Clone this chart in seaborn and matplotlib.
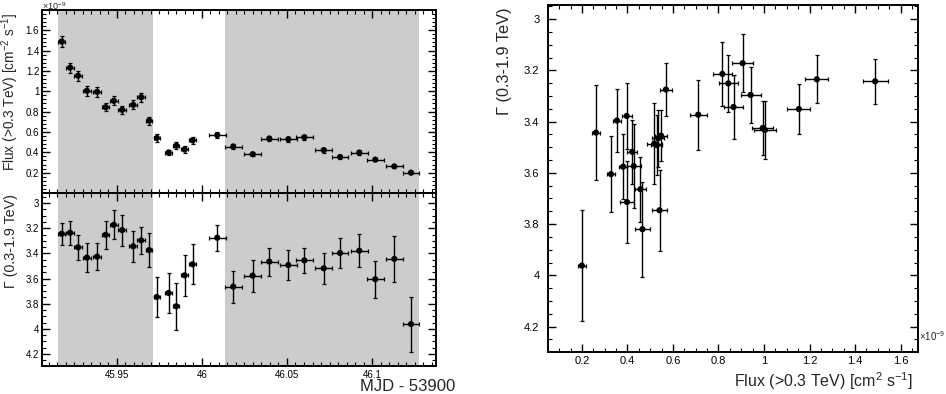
import numpy as np
import pandas as pd
import matplotlib
matplotlib.use("Agg")
import matplotlib.pyplot as plt
from matplotlib.ticker import MultipleLocator, FuncFormatter
import seaborn as sns

sns.set_theme(style="ticks")
plt.rcParams['font.family'] = ['Liberation Sans', 'DejaVu Sans']
plt.rcParams['mathtext.fontset'] = 'custom'
plt.rcParams['mathtext.rm'] = 'Liberation Sans'
plt.rcParams['mathtext.default'] = 'regular'

# time (MJD - 53900) and bin half widths
mjd = [45.9176, 45.9225, 45.9272, 45.9324, 45.9384, 45.9434, 45.9482, 45.9531,
       45.9596, 45.9643, 45.9690, 45.9735, 45.9804, 45.9849, 45.9898, 45.9945,
       46.0090, 46.0184, 46.0298, 46.0396, 46.0508, 46.0602, 46.0716, 46.0812,
       46.0925, 46.1019, 46.1131, 46.1229]
mjd_err = [0.0022, 0.0022, 0.0022, 0.0022, 0.0022, 0.0022, 0.0022, 0.0022,
           0.0022, 0.0022, 0.0019, 0.0019, 0.0019, 0.0019, 0.0019, 0.0020,
           0.0049, 0.0049, 0.0049, 0.0049, 0.0049, 0.0049, 0.0049, 0.0049,
           0.0049, 0.0049, 0.0049, 0.0049]

# flux > 0.3 TeV, units of 1e-9 cm^-2 s^-1
flux = [1.488, 1.232, 1.153, 1.004, 0.994, 0.843, 0.906, 0.817, 0.866, 0.941,
        0.711, 0.541, 0.398, 0.466, 0.428, 0.518, 0.569, 0.457, 0.381, 0.535,
        0.529, 0.548, 0.421, 0.354, 0.397, 0.328, 0.262, 0.200]
flux_err = [0.055, 0.050, 0.050, 0.047, 0.047, 0.042, 0.045, 0.042, 0.043, 0.044,
            0.038, 0.035, 0.029, 0.033, 0.030, 0.032, 0.026, 0.024, 0.018, 0.025,
            0.025, 0.025, 0.023, 0.018, 0.022, 0.018, 0.017, 0.017]

# photon index 0.3-1.9 TeV
gamma = [3.243, 3.235, 3.351, 3.433, 3.425, 3.251, 3.172, 3.214, 3.343, 3.296,
         3.373, 3.746, 3.714, 3.820, 3.574, 3.486, 3.275, 3.664, 3.576, 3.465,
         3.492, 3.455, 3.518, 3.396, 3.378, 3.605, 3.443, 3.962]
gamma_err = [0.087, 0.094, 0.097, 0.114, 0.106, 0.110, 0.114, 0.124, 0.123, 0.108,
             0.136, 0.159, 0.159, 0.185, 0.164, 0.159, 0.104, 0.127, 0.127, 0.112,
             0.116, 0.099, 0.124, 0.123, 0.130, 0.147, 0.184, 0.218]

# shaded observation windows
shaded = [(45.9155, 45.9712), (46.0135, 46.1276)]

df = pd.DataFrame({"mjd": mjd, "mjd_err": mjd_err, "flux": flux,
                   "flux_err": flux_err, "gamma": gamma, "gamma_err": gamma_err})

fmt = FuncFormatter(lambda v, p: f"{v:g}")

fig = plt.figure(figsize=(9.46, 3.94), dpi=100)
ax1 = fig.add_axes([0.0444, 0.5114, 0.4165, 0.4632])
ax2 = fig.add_axes([0.0444, 0.0711, 0.4165, 0.4403], sharex=ax1)
ax3 = fig.add_axes([0.579, 0.1074, 0.3911, 0.8799])


def style(ax, lsize):
    ax.tick_params(which="both", direction="in", top=True, right=True,
                   colors="black", labelsize=lsize)
    ax.tick_params(which="major", length=5.5, width=1)
    ax.tick_params(which="minor", length=2.8, width=0.8)
    for s in ax.spines.values():
        s.set_linewidth(1.4)
        s.set_color("black")


def points(ax, x, y, xe, ye):
    ax.errorbar(df[x], df[y], xerr=df[xe], yerr=df[ye], fmt="none",
                ecolor="black", elinewidth=1, capsize=1.4, capthick=0.9, zorder=2)
    sns.scatterplot(data=df, x=x, y=y, ax=ax, color="black", s=20,
                    edgecolor="none", zorder=3)


for ax in (ax1, ax2):
    for a, b in shaded:
        ax.axvspan(a, b, color="#cccccc", lw=0, zorder=0)

points(ax1, "mjd", "flux", "mjd_err", "flux_err")
points(ax2, "mjd", "gamma", "mjd_err", "gamma_err")
points(ax3, "flux", "gamma", "flux_err", "gamma_err")

# left top: flux light curve
ax1.set_xlim(45.906, 46.1376)
ax1.set_ylim(0.005, 1.798)
ax1.xaxis.set_major_locator(MultipleLocator(0.05))
ax1.xaxis.set_minor_locator(MultipleLocator(0.005))
ax1.yaxis.set_major_locator(MultipleLocator(0.2))
ax1.yaxis.set_minor_locator(MultipleLocator(0.04))
ax1.yaxis.set_major_formatter(fmt)
style(ax1, 7)
ax1.tick_params(axis="y", pad=2)
ax1.tick_params(labelbottom=False)
ax1.set_xlabel("")
ax1.set_ylabel(r"Flux (>0.3 TeV) [cm$^{-2}$ s$^{-1}$]", fontsize=9.8, loc="top")
ax1.yaxis.set_label_coords(-0.054, 0.985)
fig.text(0.0444, 0.999, r"$\times$10$^{-9}$", fontsize=6.5, ha="left", va="top")

# left bottom: index vs time
ax2.set_ylim(4.295, 2.915)
ax2.yaxis.set_major_locator(MultipleLocator(0.2))
ax2.yaxis.set_minor_locator(MultipleLocator(0.05))
ax2.yaxis.set_major_formatter(fmt)
ax2.xaxis.set_major_formatter(fmt)
style(ax2, 7)
ax2.tick_params(axis="y", pad=2)
ax2.tick_params(axis="x", pad=3)
ax2.set_ylabel("\u0393 (0.3-1.9 TeV)", fontsize=10.3, loc="top")
ax2.yaxis.set_label_coords(-0.062, 0.99)
ax2.set_xlabel("MJD - 53900", fontsize=12, loc="right")
ax2.xaxis.set_label_coords(1.048, -0.075)

# right: index vs flux
ax3.set_xlim(0.05, 1.675)
ax3.set_ylim(4.298, 2.945)
ax3.xaxis.set_major_locator(MultipleLocator(0.2))
ax3.xaxis.set_minor_locator(MultipleLocator(0.05))
ax3.yaxis.set_major_locator(MultipleLocator(0.2))
ax3.yaxis.set_minor_locator(MultipleLocator(0.05))
ax3.xaxis.set_major_formatter(fmt)
ax3.yaxis.set_major_formatter(fmt)
style(ax3, 8)
ax3.tick_params(axis="y", pad=6)
ax3.tick_params(axis="x", pad=3)
ax3.set_ylabel("\u0393 (0.3-1.9 TeV)", fontsize=11.7, loc="top")
ax3.yaxis.set_label_coords(-0.0965, 0.994)
ax3.set_xlabel(r"Flux (>0.3 TeV) [cm$^{2}$ s$^{-1}$]", fontsize=11.5, loc="right")
ax3.xaxis.set_label_coords(0.987, -0.055)
ax3.text(1.004, 0.045, r"$\times$10$^{-9}$", transform=ax3.transAxes,
         fontsize=7, ha="left", va="center")

fig.savefig("out.png", dpi=100)
